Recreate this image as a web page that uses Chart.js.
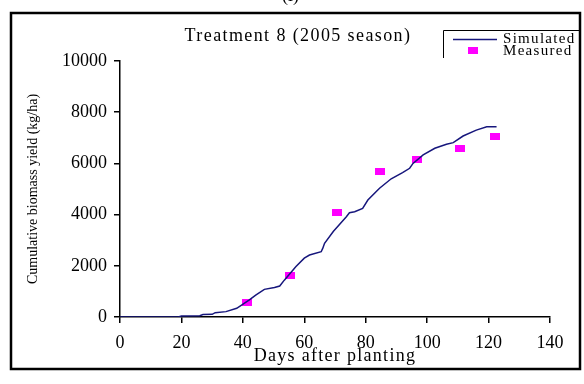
<!DOCTYPE html>
<html>
<head>
<meta charset="utf-8">
<script src="https://cdn.jsdelivr.net/npm/chart.js@4.4.0/dist/chart.umd.min.js"></script>
<style>
  body { margin: 0; background: #fff; }
  #wrap { position: relative; width: 584px; height: 384px; overflow: hidden; }
  #panel { position: absolute; left: 282px; top: -15px; font: 18px "Liberation Serif", serif; color: #000; }
</style>
</head>
<body>
<div id="wrap">
  <div id="panel">(i)</div>
  <canvas id="chart" width="584" height="384"></canvas>
</div>
<script>
// simulated cumulative biomass (model output)
var simDays = [0, 19, 20, 26, 27, 30, 31, 34.5, 38, 42, 44.3, 47, 50.3, 52, 53.5, 57.3, 60, 61.7, 65.5, 66, 66.6, 69.5, 73.7, 74.7, 76.4, 79, 80.7, 84.5, 88.3, 92, 94.3, 95.4, 98.7, 102.5, 106.3, 108.5, 111.7, 116, 119.4, 122.6]
var simYield = [0, 0, 40, 50, 100, 105, 170, 210, 340, 660, 860, 1080, 1150, 1210, 1440, 1970, 2300, 2420, 2550, 2680, 2880, 3350, 3920, 4075, 4110, 4240, 4570, 5030, 5400, 5640, 5810, 6000, 6330, 6590, 6750, 6810, 7070, 7300, 7430, 7430]

// field samples
var measDays = [41.4, 55.4, 70.7, 84.8, 96.6, 110.6, 122.1]
var measYield = [560, 1640, 4075, 5700, 6145, 6590, 7040]

var xTicks = [0, 20, 40, 60, 80, 100, 120, 140]
var yTicks = [0, 2000, 4000, 6000, 8000, 10000]

var serif = '"Liberation Serif", "Times New Roman", serif'

function pairs(xs, ys) {
    return xs.map(function (x, i) { return {x: x, y: ys[i]} })
}

// flat magenta box used as marker
var box = document.createElement('canvas')
box.width = 10
box.height = 7
var bctx = box.getContext('2d')
bctx.fillStyle = '#ff00ff'
bctx.fillRect(0, 0, 10, 7)

function spaced(ctx, px) {
    if ('letterSpacing' in ctx) ctx.letterSpacing = px + 'px'
}

var framePlugin = {
    id: 'frame',
    afterDraw: function (chart) {
        var ctx = chart.ctx
        var area = chart.chartArea
        ctx.save()
        ctx.strokeStyle = '#000'
        ctx.lineWidth = 2.5
        ctx.strokeRect(11, 13, 569, 356)

        ctx.fillStyle = '#000'
        ctx.textAlign = 'center'
        ctx.textBaseline = 'middle'
        ctx.font = '18px ' + serif
        spaced(ctx, 1.4)
        ctx.fillText('Treatment 8 (2005 season)', 298, 36)

        // x axis title
        spaced(ctx, 1.3)
        ctx.fillText('Days after planting', (area.left + area.right) / 2, 356)

        // legend
        ctx.lineWidth = 1
        ctx.beginPath()
        ctx.moveTo(580, 30.5)
        ctx.lineTo(443.5, 30.5)
        ctx.lineTo(443.5, 58)
        ctx.stroke()
        var ds = chart.data.datasets
        ctx.strokeStyle = ds[0].borderColor
        ctx.lineWidth = 1.5
        ctx.beginPath()
        ctx.moveTo(453, 39.5)
        ctx.lineTo(497, 39.5)
        ctx.stroke()
        ctx.drawImage(box, 468, 47)
        ctx.font = '15px ' + serif
        spaced(ctx, 1.3)
        ctx.textAlign = 'left'
        ctx.fillStyle = '#000'
        ctx.fillText(ds[0].label, 503, 39.5)
        ctx.fillText(ds[1].label, 503, 51)
        spaced(ctx, 0)
        ctx.restore()
    }
}

var ctx = document.getElementById('chart').getContext('2d')
new Chart(ctx, {
    type: 'scatter',
    data: {
        datasets: [{
            label: 'Simulated',
            data: pairs(simDays, simYield),
            showLine: true,
            borderColor: '#16167c',
            borderWidth: 1.5,
            pointRadius: 0,
            tension: 0
        }, {
            label: 'Measured',
            data: pairs(measDays, measYield),
            pointStyle: box,
            backgroundColor: '#ff00ff',
            borderColor: '#ff00ff'
        }]
    },
    options: {
        responsive: false,
        animation: false,
        layout: {padding: {left: 0, top: 61, right: 34, bottom: 0}},
        plugins: {
            legend: {display: false},
            title: {display: false},
            tooltip: {enabled: false}
        },
        scales: {
            x: {
                type: 'linear',
                min: 0,
                max: 140,
                afterBuildTicks: function (axis) {
                    axis.ticks = xTicks.map(function (v) { return {value: v} })
                },
                afterFit: function (axis) { axis.height = 67 },
                ticks: {
                    color: '#000',
                    font: {family: serif, size: 18},
                    padding: 9,
                    maxRotation: 0,
                    callback: function (v) { return String(v) }
                },
                grid: {drawOnChartArea: false, tickLength: 6, color: '#000', lineWidth: 1.5},
                border: {color: '#000', width: 1.5}
            },
            y: {
                min: 0,
                max: 10000,
                afterBuildTicks: function (axis) {
                    axis.ticks = yTicks.map(function (v) { return {value: v} })
                },
                afterFit: function (axis) { axis.width = 120 },
                ticks: {
                    color: '#000',
                    font: {family: serif, size: 18},
                    padding: 7,
                    callback: function (v) { return String(v) }
                },
                grid: {drawOnChartArea: false, tickLength: 6, color: '#000', lineWidth: 1.5},
                border: {color: '#000', width: 1.5},
                title: {
                    display: true,
                    text: 'Cumulative biomass yield (kg/ha)',
                    color: '#000',
                    font: {family: serif, size: 14},
                    padding: {top: 25, bottom: 0}
                }
            }
        }
    },
    plugins: [framePlugin]
})
</script>
</body>
</html>
